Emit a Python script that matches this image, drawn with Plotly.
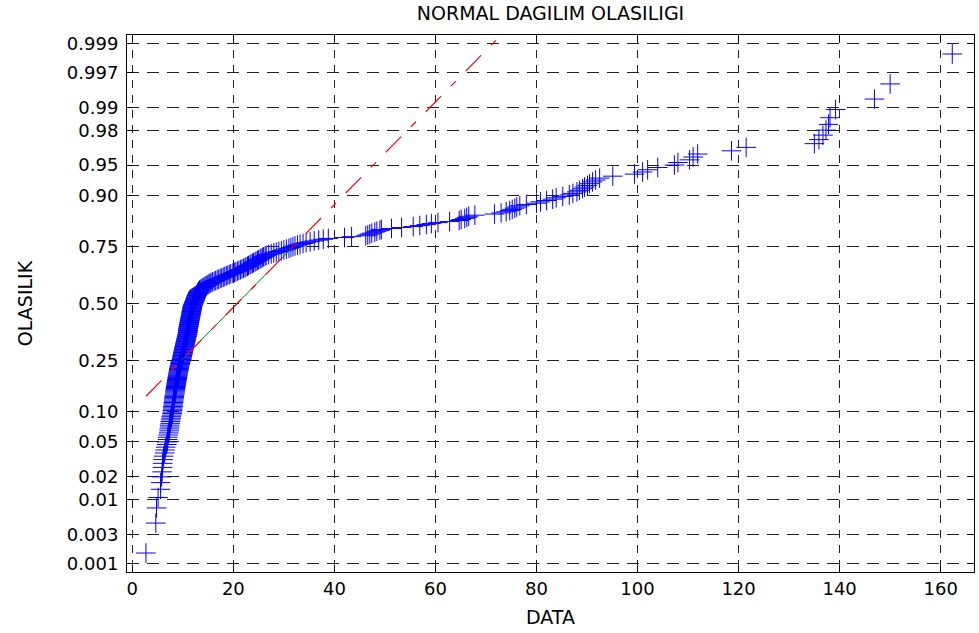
from statistics import NormalDist
import numpy as np
import plotly.graph_objects as go

# ---------------- data (sorted sample values) ----------------
data_low = [2.7, 4.65, 4.8, 5.1, 5.6, 5.6, 5.8, 5.9, 6.0, 6.0, 6.1, 6.2, 6.4, 6.5, 6.6,
            6.8, 6.9, 7.0, 7.0, 7.1, 7.2, 7.3, 7.3, 7.4, 7.4, 7.5, 7.5, 7.6, 7.7, 7.7,
            7.8, 7.9, 7.9,
            7.95, 8.0, 8.0, 8.05, 8.1, 8.1, 8.15, 8.2, 8.2, 8.25, 8.3, 8.3, 8.35, 8.4,
            8.45, 8.45, 8.5, 8.5, 8.55, 8.6, 8.6, 8.65, 8.7, 8.7, 8.75, 8.8, 8.8,
            8.85, 8.9, 8.9, 8.95, 9.0, 9.0, 9.05, 9.1, 9.1, 9.15, 9.2, 9.2, 9.25, 9.3,
            9.3, 9.35, 9.4, 9.45, 9.5, 9.5, 9.55, 9.6, 9.7, 9.75]
data_mid = [9.8, 9.8, 9.85, 9.9, 9.9, 9.95, 10.0, 10.0, 10.05, 10.1, 10.1, 10.15, 10.2,
            10.2, 10.25, 10.3, 10.3, 10.35, 10.4, 10.4, 10.45, 10.5, 10.5, 10.55, 10.6,
            10.6, 10.65, 10.7, 10.7, 10.75, 10.8, 10.8, 10.85, 10.9, 10.9, 10.95, 10.95,
            11.0, 11.0, 11.0, 11.0,
            11.05, 11.05, 11.1, 11.1, 11.15, 11.15, 11.2, 11.2, 11.25, 11.25,
            11.3, 11.3, 11.35, 11.35, 11.4, 11.4, 11.45, 11.45, 11.5, 11.5,
            11.55, 11.55, 11.6, 11.6, 11.65, 11.65, 11.7, 11.7, 11.75, 11.75,
            11.8, 11.8, 11.85, 11.85, 11.9, 11.9, 11.95, 12.0,
            12.05, 12.1, 12.15, 12.2, 12.25, 12.3, 12.35, 12.4, 12.45, 12.5,
            12.55, 12.6, 12.65, 12.7, 12.75, 12.8, 12.85, 12.9, 12.95, 13.0,
            13.1, 13.2, 13.3, 13.4,
            13.6, 13.8, 14.0, 14.2, 14.4, 14.6, 14.8, 15.0, 15.2, 15.4, 15.6, 15.9,
            16.2, 16.5, 16.8, 17.1, 17.4, 17.7, 18.0, 18.3, 18.6, 18.9, 19.2, 19.5, 19.9,
            20.2, 20.5, 20.8, 21.1, 21.4, 21.7, 22.0, 22.3, 22.5, 22.8, 23.0, 23.3, 23.5, 23.8,
            24.0, 24.3, 24.5, 24.8, 25.0, 25.3, 25.5, 25.8, 26.0, 26.3, 26.5,
            27.0, 27.5, 28.0, 28.5, 29.0, 29.5, 30.0, 30.5, 31.0, 31.4, 31.8]
data_high = [32.2, 32.7, 33.2, 33.8, 34.4, 35.2, 36.0, 36.9, 37.8, 38.8,
             42.0, 43.4,
             46.2, 46.6, 47.0, 47.4, 48.0, 48.4, 49.0, 49.3,
             51.3, 53.3, 55.6, 56.9, 58.2, 59.2, 60.5, 62.8,
             64.7, 65.1, 65.8, 66.2, 66.6, 67.8, 71.7, 73.0,
             74.0, 74.7, 75.2, 75.7, 76.1, 76.7, 78.0,
             80.0, 80.8, 82.0, 83.2, 83.9, 85.2, 86.5,
             87.2, 88.0, 88.5, 89.1, 89.5, 90.1, 90.5, 91.1, 91.7, 92.5,
             95.1, 99.4, 101.0, 102.0, 104.0, 107.3, 108.0, 110.3, 111.0, 111.9,
             118.6, 121.5,
             135.0, 135.9, 136.7, 137.3, 137.8, 138.1, 139.2,
             146.9, 150.0, 162.3]

prob_ticks = [0.001, 0.003, 0.01, 0.02, 0.05, 0.10, 0.25, 0.50, 0.75, 0.90, 0.95,
              0.98, 0.99, 0.997, 0.999]
prob_labels = ["0.001", "0.003", "0.01", "0.02", "0.05", "0.10", "0.25", "0.50",
               "0.75", "0.90", "0.95", "0.98", "0.99", "0.997", "0.999"]
x_ticks = [0, 20, 40, 60, 80, 100, 120, 140, 160]

# ---------------- normal probability transform ----------------
nd = NormalDist()
x = np.sort(np.array(data_low + data_mid + data_high, dtype=float))
n = len(x)
pp = (np.arange(1, n + 1) - 0.5) / n
z = np.array([nd.inv_cdf(p) for p in pp])

q1 = float(np.interp(0.25, pp, x))
q3 = float(np.interp(0.75, pp, x))
z1, z3 = nd.inv_cdf(0.25), nd.inv_cdf(0.75)
slope = (z3 - z1) / (q3 - q1)
xl = np.array([x.min(), x.max()])
yl = z1 + slope * (xl - q1)

FONT = "DejaVu Sans"

fig = go.Figure()
fig.add_trace(go.Scatter(
    x=x, y=z, mode="markers",
    marker=dict(symbol="cross-thin", size=14, line=dict(color="#0000ff", width=1)),
    showlegend=False, hoverinfo="x+y"))
fig.add_trace(go.Scatter(
    x=[q1, q3], y=[z1, z3], mode="lines",
    line=dict(color="#008000", width=1), showlegend=False))
fig.add_trace(go.Scatter(
    x=xl, y=yl, mode="lines",
    line=dict(color="#ff0000", width=1.2, dash="22px,14px,7px,14px"), showlegend=False))

axis_common = dict(
    showline=True, linecolor="black", linewidth=1, mirror="allticks",
    ticks="inside", ticklen=6, tickcolor="black", zeroline=False,
    showgrid=True, gridcolor="#222222", gridwidth=1,
    tickfont=dict(family=FONT, size=18, color="black"),
)

fig.update_xaxes(
    **axis_common, range=[-1.05, 166.6], tickvals=x_ticks,
    ticktext=[str(v) for v in x_ticks], griddash="8px,7px",
    title=dict(text="DATA", font=dict(family=FONT, size=19, color="black"), standoff=13),
)
fig.update_yaxes(
    **axis_common, range=[-3.19, 3.19],
    tickvals=[nd.inv_cdf(p) for p in prob_ticks], ticktext=prob_labels,
    griddash="12px,8px", ticklabelstandoff=4,
    title=dict(text="OLASILIK", font=dict(family=FONT, size=19, color="black"), standoff=29),
)

fig.update_layout(
    width=979, height=633,
    margin=dict(l=127, r=5, t=35, b=61),
    paper_bgcolor="white", plot_bgcolor="white",
    title=dict(text="NORMAL DAGILIM OLASILIGI", x=0.5, xref="paper",
               y=1 - 13 / 633, yref="container", yanchor="middle", xanchor="center",
               font=dict(family=FONT, size=19, color="black")),
    font=dict(family=FONT),
)

fig.write_html("out.html")
